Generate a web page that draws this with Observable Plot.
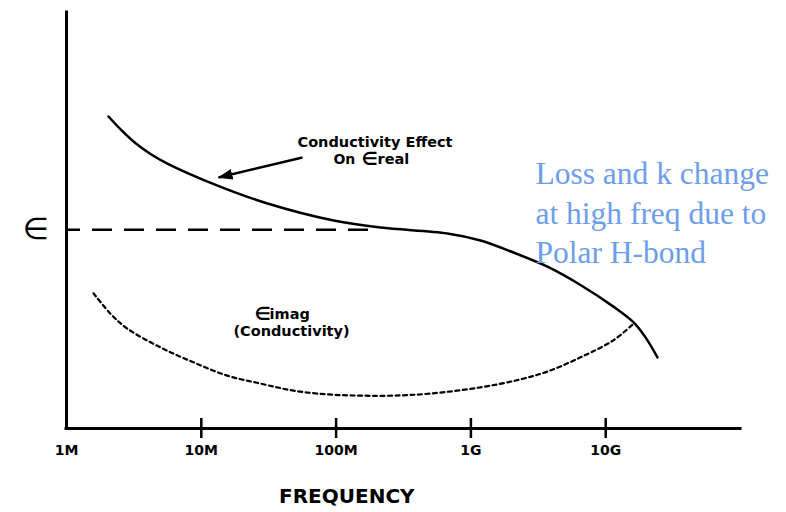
<!DOCTYPE html>
<html><head><meta charset="utf-8">
<script src="https://cdn.jsdelivr.net/npm/d3@7"></script>
<script src="https://cdn.jsdelivr.net/npm/@observablehq/plot@0.6"></script>
<style>html,body{margin:0;padding:0;background:#fff}</style>
</head><body><div id="chart"></div>
<script>
// ---- data (frequency in Hz, permittivity in arbitrary units) ----
const realFreq = [2.05e6, 2.52e6, 3.14e6, 4.2e6, 5.6e6, 1.32e7, 3.1e7, 9.6e7, 2.13e8, 6.7e8, 1.18e9, 2.07e9, 3.7e9, 6.5e9, 1.14e10, 1.61e10, 1.974e10, 2.42e10];
const realEps  = [75.0, 71.9, 69.0, 66.0, 63.7, 58.4, 54.1, 50.0, 48.3, 46.9, 45.2, 42.3, 38.9, 34.5, 29.3, 25.5, 21.9, 17.1];

const imagFreq = [1.585e6, 2.12e6, 2.83e6, 4.98e6, 8.75e6, 1.56e7, 2.75e7, 4.83e7, 8.63e7, 1.52e8, 2.67e8, 5.0e8, 1.18e9, 2.33e9, 3.7e9, 6.5e9, 1.14e10, 1.61e10];
const imagEps  = [32.5, 27.6, 24.0, 19.5, 15.9, 12.7, 10.8, 9.1, 8.2, 7.9, 7.9, 8.4, 9.9, 11.8, 13.7, 17.1, 21.2, 25.2];

const epsInf = 47.8;            // high-frequency permittivity level (dashed)
const epsInfEndFreq = 1.8e8;

const tickFreqs  = [1e6, 1e7, 1e8, 1e9, 1e10];
const tickLabels = ["1M", "10M", "100M", "1G", "10G"];

const xLabel = "FREQUENCY";
const yLabel = "∈";
const noteLines = ["Loss and k change", "at high freq due to", "Polar H-bond"];

const realData = realFreq.map((f, i) => ({f, e: realEps[i]}));
const imagData = imagFreq.map((f, i) => ({f, e: imagEps[i]}));

const SANS = "DejaVu Sans";
const bold = {fontFamily: SANS, fontWeight: "bold", fill: "black"};

function filledHead(color) {
  const m = d3.create("svg:marker")
    .attr("viewBox", "-15 -6 15 12")
    .attr("markerWidth", 15)
    .attr("markerHeight", 12)
    .attr("markerUnits", "userSpaceOnUse")
    .attr("orient", "auto")
    .attr("refX", -1).attr("refY", 0);
  m.append("path").attr("d", "M-15,-5.5L0,0L-15,5.5Z").attr("fill", color).attr("stroke", "none");
  return m.node();
}

function build(useMarker) {
  const arrowMark = useMarker
    ? Plot.link([{}], {x1: 5.63e7, y1: 65.14, x2: 1.342e7, y2: 60.34, stroke: "black", strokeWidth: 2.5, markerEnd: filledHead})
    : Plot.arrow([{}], {x1: 5.63e7, y1: 65.14, x2: 1.342e7, y2: 60.34, stroke: "black", strokeWidth: 2.5, headLength: 13, headAngle: 45});
  return Plot.plot({
    width: 786,
    height: 512,
    marginLeft: 66,
    marginRight: 46,
    marginTop: 12,
    marginBottom: 84,
    x: {type: "log", domain: [1e6, 1e11], axis: null},
    y: {domain: [0, 100], axis: null},
    marks: [
      // axes frame
      Plot.ruleX([1e6], {stroke: "black", strokeWidth: 3, strokeLinecap: "square"}),
      Plot.ruleY([0], {stroke: "black", strokeWidth: 3, strokeLinecap: "square"}),
      // ticks crossing the x axis
      Plot.ruleX(tickFreqs.slice(1), {y1: 0, y2: 0, insetTop: -10, insetBottom: -10, stroke: "black", strokeWidth: 2.5}),
      Plot.axisX({ticks: tickFreqs, tickFormat: (d) => tickLabels[tickFreqs.indexOf(d)], tickSize: 0, tickPadding: 17, fontSize: 14, fontWeight: "bold", fontFamily: SANS, fill: "black", label: null}),
      // x label
      Plot.text([xLabel], {x: 1.2e8, frameAnchor: "bottom", dy: 74, fontSize: 20, ...bold}),
      // y symbol
      Plot.text([yLabel], {y: epsInf, frameAnchor: "left", dx: -44, fontSize: 30, fontFamily: SANS, fill: "black"}),
      // dashed epsilon-infinity line
      Plot.ruleY([epsInf], {x1: 1e6, x2: epsInfEndFreq, stroke: "black", strokeWidth: 2.5, strokeDasharray: "20,12", strokeDashoffset: 6}),
      // curves
      Plot.line(realData, {x: "f", y: "e", curve: "catmull-rom", stroke: "black", strokeWidth: 2.5}),
      Plot.line(imagData, {x: "f", y: "e", curve: "catmull-rom", stroke: "black", strokeWidth: 2.2, strokeDasharray: "4,3.5"}),
      // annotations
      arrowMark,
      Plot.text(["Conductivity Effect"], {x: 1.944e8, y: 68.87, fontSize: 14.5, ...bold}),
      Plot.text(["On"], {x: 9.56e7, y: 64.66, textAnchor: "start", fontSize: 14, ...bold}),
      Plot.text(["∈"], {x: 1.54e8, y: 64.66, textAnchor: "start", fontSize: 18, ...bold}),
      Plot.text(["real"], {x: 2.03e8, y: 64.66, textAnchor: "start", fontSize: 14.5, ...bold}),
      Plot.text(["∈"], {x: 2.48e7, y: 27.4, textAnchor: "start", fontSize: 18, ...bold}),
      Plot.text(["imag"], {x: 3.21e7, y: 27.4, textAnchor: "start", fontSize: 14.5, ...bold}),
      Plot.text(["(Conductivity)"], {x: 4.67e7, y: 23.3, fontSize: 14.5, ...bold}),
      Plot.text([noteLines.join("\n")], {x: 3.01e9, y: 65.38, textAnchor: "start", lineAnchor: "top", lineHeight: 1.245, fontSize: 31.5, fontFamily: "Liberation Serif", fill: "#6d9eeb"})
    ]
  });
}

let chart;
try { chart = build(true); } catch (e) { chart = build(false); }
document.getElementById("chart").append(chart);
</script>
</body></html>
